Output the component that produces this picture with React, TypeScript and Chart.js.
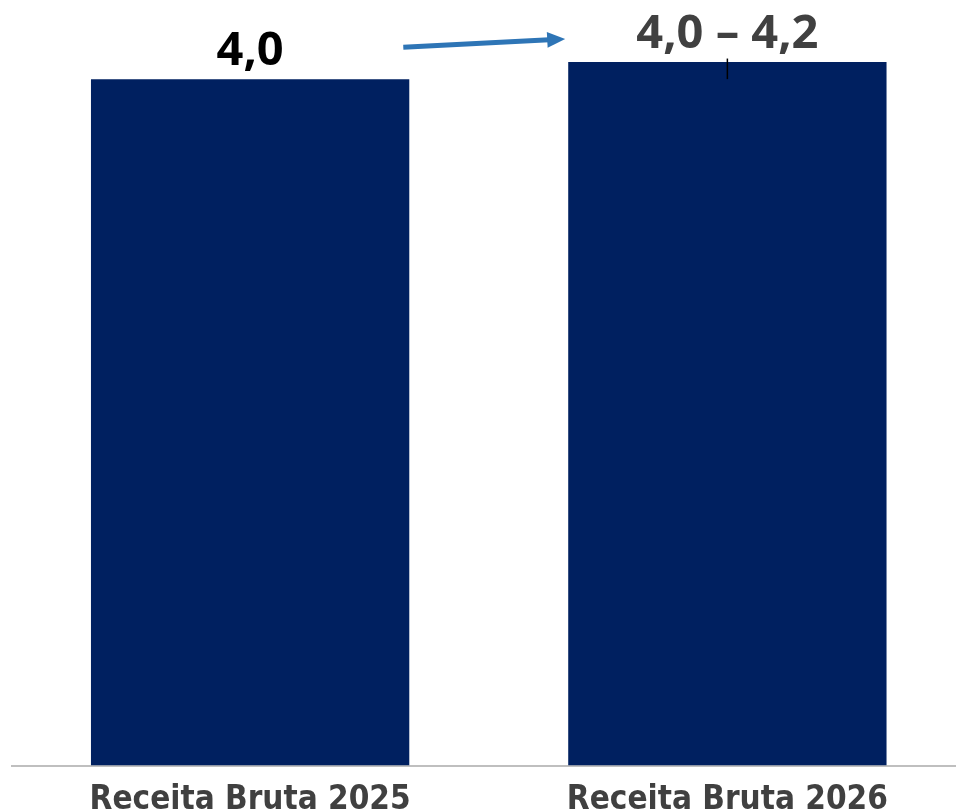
import React, { useEffect, useRef } from "react";
import { Chart, registerables } from "chart.js";

Chart.register(...registerables);

const categories = ["Receita Bruta 2025", "Receita Bruta 2026"];
const values = [4.0, 4.1];
const valueLabels = ["4,0", "4,0 – 4,2"];
const valueLabelColors = ["#000000", "#404040"];
const errLow = [null, 4.0];
const errHigh = [null, 4.12];

const BAR_COLOR = "#002060";

const labelsPlugin = {
  id: "valueLabels",
  afterDatasetsDraw(chart: any) {
    const ctx = chart.ctx;
    const meta = chart.getDatasetMeta(0);
    const yScale = chart.scales.y;
    ctx.save();
    meta.data.forEach((bar: any, i: number) => {
      if (errLow[i] == null || errHigh[i] == null) return;
      const y1 = yScale.getPixelForValue(errLow[i]);
      const y2 = yScale.getPixelForValue(errHigh[i]);
      ctx.strokeStyle = "#000000";
      ctx.lineWidth = 1.5;
      ctx.beginPath();
      ctx.moveTo(bar.x, y1);
      ctx.lineTo(bar.x, y2);
      ctx.stroke();
    });
    ctx.font = "bold 47px 'Open Sans'";
    ctx.textAlign = "center";
    ctx.textBaseline = "alphabetic";
    meta.data.forEach((bar: any, i: number) => {
      ctx.fillStyle = valueLabelColors[i];
      ctx.fillText(valueLabels[i], bar.x, bar.y - 14);
    });
    const b1 = meta.data[0];
    const b2 = meta.data[1];
    const x1 = b1.x + b1.width / 2 - 6;
    const y1 = b1.y - 32;
    const x2 = b2.x - b2.width / 2 - 3;
    const y2 = b2.y - 23;
    const ang = Math.atan2(y2 - y1, x2 - x1);
    const headLen = 18;
    const headHalf = 8;
    const bx = x2 - headLen * Math.cos(ang);
    const by = y2 - headLen * Math.sin(ang);
    ctx.strokeStyle = "#2E75B6";
    ctx.fillStyle = "#2E75B6";
    ctx.lineWidth = 5;
    ctx.beginPath();
    ctx.moveTo(x1, y1);
    ctx.lineTo(bx + 2 * Math.cos(ang), by + 2 * Math.sin(ang));
    ctx.stroke();
    ctx.beginPath();
    ctx.moveTo(x2, y2);
    ctx.lineTo(bx - headHalf * Math.sin(ang), by + headHalf * Math.cos(ang));
    ctx.lineTo(bx + headHalf * Math.sin(ang), by - headHalf * Math.cos(ang));
    ctx.closePath();
    ctx.fill();
    ctx.restore();
  },
};

export default function App() {
  const ref = useRef<HTMLCanvasElement | null>(null);
  useEffect(() => {
    if (!ref.current) return;
    const chart = new Chart(ref.current, {
      type: "bar",
      data: {
        labels: categories,
        datasets: [
          {
            data: values,
            backgroundColor: BAR_COLOR,
            borderWidth: 0,
            barPercentage: 0.667,
            categoryPercentage: 1,
          },
        ],
      },
      options: {
        animation: false,
        responsive: false,
        maintainAspectRatio: false,
        layout: { padding: { left: 11.5, right: 0, top: 10.5, bottom: 0 } },
        plugins: { legend: { display: false }, tooltip: { enabled: false } },
        scales: {
          x: {
            grid: { display: false, drawTicks: false },
            border: { display: true, color: "#BFBFBF", width: 2 },
            afterFit: (scale: any) => {
              scale.height = 68.5;
            },
            ticks: {
              color: "#404040",
              padding: 15,
              font: { family: "'DejaVu Sans Condensed', 'DejaVu Sans'", weight: "bold", size: 33 },
            },
          },
          y: {
            display: false,
            min: 0,
            max: 4.4,
          },
        },
      },
      plugins: [labelsPlugin],
    });
    return () => chart.destroy();
  }, []);
  return (
    <div style={{ position: "fixed", left: 0, top: 0, width: 966, height: 834, background: "#fff" }}>
      <canvas ref={ref} width={966} height={834} style={{ width: 966, height: 834 }} />
    </div>
  );
}
